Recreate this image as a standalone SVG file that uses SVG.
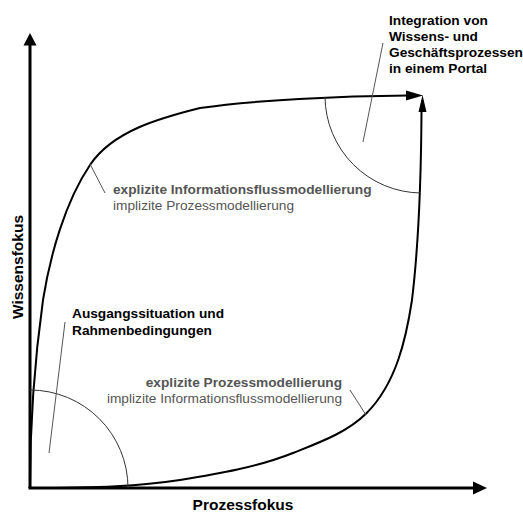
<svg xmlns="http://www.w3.org/2000/svg" width="523" height="512" viewBox="0 0 523 512">
<style>
.ax{stroke:#000;stroke-width:3;fill:none}
.cv{stroke:#000;stroke-width:2;fill:none}
.arc{stroke:#333;stroke-width:1;fill:none}
.ld{stroke:#555;stroke-width:1;fill:none}
.hd{fill:#000;stroke:none}
text{font-family:"Liberation Sans",Arial,sans-serif;font-size:13.7px}
.b{font-weight:bold;fill:#000}
.gb{font-weight:bold;fill:#555}
.gr{fill:#555}
.axl{font-weight:bold;font-size:15.5px;fill:#000}
</style>
<rect width="523" height="512" fill="#fff"/>
<g id="axes">
<line class="ax" x1="30" y1="488" x2="30" y2="44"/>
<polygon class="hd" points="30,33 23.5,45.5 36.5,45.5"/>
<line class="ax" x1="28.5" y1="488" x2="474" y2="488"/>
<polygon class="hd" points="487,488 473,481.5 473,494.5"/>
<text class="axl" x="243" y="510" text-anchor="middle">Prozessfokus</text>
<text class="axl" transform="translate(22.5,267) rotate(-90)" text-anchor="middle">Wissensfokus</text>
</g>
<g id="connectors">
<path class="cv" d="M30,488 C30,420 36,350 43,300 C50,256 65,202 90,165 C112.6,131 160,118 200,108 C255,100 340,96 408,95.5"/>
<polygon class="hd" points="423,95.5 406,90.5 406,100.5"/>
<path class="cv" d="M30,488 C100,488 140,486 180,480 C218.5,473.8 256.7,467.4 293,453 C319,442.6 346.9,432.8 366.7,413 C396,383.5 406,339.5 412,300 C418,250 421,200 421.5,111"/>
<polygon class="hd" points="422.5,95 418.5,112 426.5,112"/>
</g>
<g id="arc-start">
<path class="arc" d="M30,390 A98,98 0 0 1 128,488"/>
</g>
<g id="arc-end">
<path class="arc" d="M325,97 A97,97 0 0 0 421,193"/>
</g>
<g id="label-start">
<line class="ld" x1="65" y1="322" x2="49" y2="453"/>
<text class="b" x="72" y="317.5">Ausgangssituation und</text>
<text class="b" x="72" y="334.5">Rahmenbedingungen</text>
</g>
<g id="label-end">
<line class="ld" x1="383" y1="43" x2="363" y2="142"/>
<text class="b" x="389" y="24.5">Integration von</text>
<text class="b" x="389" y="40.8">Wissens- und</text>
<text class="b" x="389" y="57.1">Geschäftsprozessen</text>
<text class="b" x="389" y="73.4">in einem Portal</text>
</g>
<g id="label-upper">
<line class="ld" x1="90" y1="164" x2="105" y2="193"/>
<text class="gb" x="113" y="193.5">explizite Informationsflussmodellierung</text>
<text class="gr" x="113" y="209.5">implizite Prozessmodellierung</text>
</g>
<g id="label-lower">
<line class="ld" x1="350" y1="390" x2="366" y2="415"/>
<text class="gb" x="342" y="387" text-anchor="end">explizite Prozessmodellierung</text>
<text class="gr" x="342" y="402.5" text-anchor="end">implizite Informationsflussmodellierung</text>
</g>
</svg>
